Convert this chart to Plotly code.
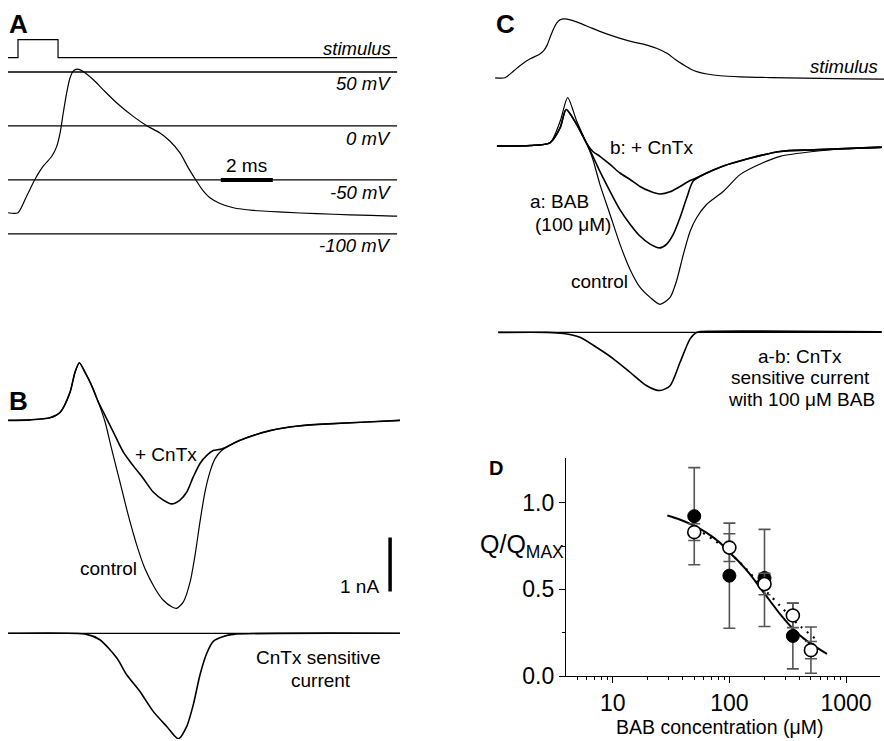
import plotly.graph_objects as go

W, H = 884, 741          # reference picture size (layout coordinates below are in this space)
FIG_H = 752              # rendered height (the page capture is squeezed back to 741)
FONT = "Liberation Sans, Arial, Helvetica, sans-serif"

# ---------------- data ----------------
# Panel A: action potential (ms, mV); reused as the stimulus of panel C
ap_t = [-0.38, 0.0, 0.33, 0.65, 0.97, 1.30, 1.49, 1.62, 1.74, 1.87, 2.00, 2.13, 2.28, 2.51,
        2.90, 3.28, 3.80, 4.43, 4.95, 5.46, 5.85, 6.23, 6.55, 6.87, 7.13, 7.38, 7.77, 8.28,
        9.05, 10.20, 11.49, 12.77, 14.44, 14.58]
ap_v = [-80.4, -80.4, -65.1, -49.6, -37.3, -28.1, -18.9, -6.5, 12.0, 30.5, 44.4, 51.1, 52.7, 50.5,
        42.8, 33.5, 21.3, 8.9, 0.3, -6.5, -14.2, -25.0, -38.8, -51.2, -60.4, -66.5, -71.8, -75.8,
        -78.3, -79.9, -81.3, -82.3, -83.5, -83.6]
ref_levels = [50, 0, -50, -100]
ref_labels = ["50 mV", "0 mV", "-50 mV", "-100 mV"]
stim_t = [-0.385, 0.0, 0.0, 1.54, 1.54, 14.58]
stim_v = [0, 0, 1, 1, 0, 0]

# Panel B: currents (ms, nA)
bc_t = [-0.38, 0.46, 1.23, 1.62, 2.00, 2.19, 2.36, 2.58, 2.83, 3.09, 3.35, 3.60, 3.92, 4.24,
        4.57, 4.88, 5.27, 5.59, 5.91, 6.10, 6.36, 6.62, 6.81, 7.00, 7.19, 7.38, 7.58, 7.83,
        8.54, 9.69, 10.85, 12.12, 13.42, 14.69]
bc_i = [-0.01, 0.0, 0.04, 0.14, 0.51, 0.88, 1.06, 0.88, 0.64, 0.33, -0.04, -0.54, -1.15, -1.77,
        -2.33, -2.76, -3.13, -3.35, -3.47, -3.50, -3.38, -3.01, -2.51, -1.89, -1.34, -0.97, -0.72,
        -0.57, -0.38, -0.20, -0.11, -0.07, -0.04, -0.01]
bx_t = [-0.38, 0.46, 1.23, 1.62, 2.00, 2.19, 2.36, 2.58, 2.83, 3.09, 3.35, 3.67, 4.05, 4.43,
        4.82, 5.20, 5.59, 5.91, 6.23, 6.49, 6.74, 7.00, 7.26, 7.51, 7.83, 8.54, 9.69, 10.85,
        12.12, 13.42, 14.69]
bx_i = [-0.01, 0.0, 0.04, 0.14, 0.51, 0.88, 1.06, 0.88, 0.64, 0.33, 0.08, -0.23, -0.60, -0.85,
        -1.09, -1.34, -1.49, -1.56, -1.49, -1.34, -1.06, -0.81, -0.66, -0.57, -0.54, -0.38, -0.20,
        -0.11, -0.07, -0.04, -0.01]
bd_t = [-0.38, 2.64, 3.15, 3.80, 4.18, 4.69, 5.20, 5.72, 6.17, 6.49, 6.74, 7.00, 7.26, 7.51,
        7.90, 8.28, 14.69]
bd_i = [0.0, -0.02, -0.12, -0.46, -0.77, -1.08, -1.45, -1.73, -1.96, -1.73, -1.33, -0.77, -0.37,
        -0.15, -0.06, -0.02, 0.0]

# Panel C: currents (ms, nA)
cc_t = [-0.31, 0.96, 1.73, 2.12, 2.41, 2.76, 3.14, 3.38, 3.65, 4.04, 4.42, 4.81, 5.19, 5.58,
        5.96, 6.35, 6.60, 6.86, 7.12, 7.37, 7.76, 8.40, 9.04, 9.92, 10.58, 11.85, 13.14, 14.49]
cc_i = [0.01, 0.02, 0.07, 0.47, 0.91, 0.47, 0.06, -0.24, -0.70, -1.26, -1.81, -2.28, -2.61, -2.80,
        -2.93, -2.80, -2.49, -2.00, -1.57, -1.32, -1.07, -0.83, -0.52, -0.30, -0.18, -0.09, -0.04,
        -0.02]
cb_t = [-0.31, 0.96, 1.73, 2.12, 2.35, 2.76, 3.14, 3.38, 3.65, 4.04, 4.42, 4.81, 5.19, 5.58,
        5.96, 6.22, 6.47, 6.73, 6.99, 7.24, 7.76, 8.40, 9.30, 10.58, 11.86, 14.49]
cb_i = [0.01, 0.02, 0.07, 0.35, 0.69, 0.41, 0.06, -0.18, -0.46, -0.83, -1.17, -1.44, -1.66, -1.81,
        -1.88, -1.81, -1.63, -1.32, -0.95, -0.64, -0.49, -0.36, -0.23, -0.09, -0.06, -0.01]
cx_t = [-0.31, 0.96, 1.73, 2.12, 2.35, 2.76, 3.14, 3.38, 3.65, 4.04, 4.42, 4.81, 5.19, 5.58,
        5.96, 6.35, 6.73, 7.12, 7.37, 7.76, 8.40, 9.30, 10.58, 11.86, 14.49]
cx_i = [0.01, 0.02, 0.07, 0.35, 0.69, 0.41, 0.06, -0.09, -0.18, -0.33, -0.49, -0.61, -0.74, -0.83,
        -0.88, -0.84, -0.74, -0.63, -0.58, -0.49, -0.36, -0.23, -0.09, -0.06, -0.01]
cd_t = [-0.26, 1.60, 2.24, 2.88, 3.53, 4.17, 4.81, 5.45, 5.96, 6.35, 6.73, 7.12, 7.37, 8.01, 14.49]
cd_i = [0.0, 0.0, -0.02, -0.09, -0.28, -0.49, -0.74, -0.99, -1.08, -0.99, -0.56, -0.12, 0.0,
        0.02, 0.01]

# Panel D: dose-response
conc = [50, 100, 200, 350, 500]
q_filled = [0.922, 0.579, 0.566, 0.232, 0.150]
e_filled = [0.280, 0.303, 0.280, 0.190, 0.133]
q_open = [0.830, 0.741, 0.531, 0.350, 0.150]
e_open = [0.048, 0.080, 0.062, 0.070, 0.050]
fit_x = [29.4, 37.5, 48.8, 63.5, 82.6, 100.7, 122.7, 149.4, 182, 221.8, 270, 329, 401, 488, 594, 687]
fit_y = [0.926, 0.903, 0.870, 0.827, 0.770, 0.712, 0.655, 0.589, 0.512, 0.436, 0.360, 0.293,
         0.236, 0.192, 0.154, 0.128]
fitd_x = [52.0, 77.4, 107.4, 139.9, 191.9, 270, 388, 565]
fitd_y = [0.850, 0.775, 0.693, 0.617, 0.512, 0.408, 0.299, 0.208]
x_ticks = [10, 100, 1000]
y_ticks = [0.0, 0.5, 1.0]

# scale bars (length in data units)
bar_ms = 2
bar_na = 1

# ---------------- figure ----------------
def fy(py):
    return 1 - py / H


fig = go.Figure()
K = "black"


def line(x, y, xa, ya, w=1.0, shape="linear", dash=None, color=K):
    fig.add_trace(go.Scatter(x=x, y=y, xaxis=xa, yaxis=ya, mode="lines",
                             line=dict(color=color, width=w, shape=shape, dash=dash,
                                       smoothing=0.7 if shape == "spline" else None),
                             hoverinfo="skip"))


# Panel A
a_x0, a_x1 = stim_t[0], stim_t[-1]
for lv in ref_levels:
    line([a_x0, a_x1], [lv, lv], "x", "y", 1.3)
line(stim_t, stim_v, "x", "y2", 1.2)
line(ap_t, ap_v, "x", "y", 1.2, "spline")
line([7.8, 7.8 + bar_ms], [-50, -50], "x", "y", 4)

# Panel B
line([bc_t[0], bc_t[-1]], [0, 0], "x2", "y4", 1.2)
line(bx_t, bx_i, "x2", "y3", 1.6, "spline")
line(bc_t, bc_i, "x2", "y3", 1.2, "spline")
line(bd_t, bd_i, "x2", "y4", 1.6, "spline")
line([14.31, 14.31], [-2.185, -2.185 - bar_na], "x2", "y3", 3.5)

# Panel C
line(ap_t, ap_v, "x3", "y5", 1.2, "spline")
line(cx_t, cx_i, "x3", "y6", 1.6, "spline")
line(cb_t, cb_i, "x3", "y6", 1.6, "spline")
line(cc_t, cc_i, "x3", "y6", 1.2, "spline")
line([cd_t[0], cd_t[-1]], [0, 0], "x3", "y7", 1.2)
line(cd_t, cd_i, "x3", "y7", 1.6, "spline")

# Panel D
line(fitd_x, fitd_y, "x4", "y8", 2.2, "spline", dash="2px,6px")
line(fit_x, fit_y, "x4", "y8", 2.0, "spline")
fig.add_trace(go.Scatter(x=conc, y=q_filled, xaxis="x4", yaxis="y8", mode="markers",
                         marker=dict(color="black", size=13, line=dict(color="black", width=1)),
                         error_y=dict(type="data", array=e_filled, color="#555555",
                                      thickness=1.6, width=6),
                         hoverinfo="skip"))
fig.add_trace(go.Scatter(x=conc, y=q_open, xaxis="x4", yaxis="y8", mode="markers",
                         marker=dict(color="white", size=13, line=dict(color="black", width=1.6)),
                         error_y=dict(type="data", array=e_open, color="#555555",
                                      thickness=1.6, width=6),
                         hoverinfo="skip"))

TICK_FS = 23
hid = dict(visible=False, fixedrange=True)
fig.update_layout(
    width=W, height=FIG_H, margin=dict(l=0, r=0, t=0, b=0),
    paper_bgcolor="white", plot_bgcolor="rgba(0,0,0,0)", showlegend=False,
    font=dict(family=FONT, color="black"),
    xaxis=dict(domain=[0, 420 / W], range=[-0.692, 15.46], anchor="y", **hid),
    yaxis=dict(domain=[fy(262), fy(60)], range=[-125.4, 61.27], anchor="x", **hid),
    yaxis2=dict(domain=[fy(62), fy(30)], range=[-0.239, 1.539], anchor="x", **hid),
    xaxis2=dict(domain=[0, 420 / W], range=[-0.692, 15.46], anchor="y3", **hid),
    yaxis3=dict(domain=[fy(620), fy(330)], range=[-3.685, 1.685], anchor="x2", **hid),
    yaxis4=dict(domain=[fy(741), fy(620)], range=[-1.963, 0.278], anchor="x2", **hid),
    xaxis3=dict(domain=[480 / W, 1], range=[-0.9615, 14.577], anchor="y5", **hid),
    yaxis5=dict(domain=[fy(88), fy(5)], range=[-102.96, 84.27], anchor="x3", **hid),
    yaxis6=dict(domain=[fy(315), fy(88)], range=[-3.111, 1.093], anchor="x3", **hid),
    yaxis7=dict(domain=[fy(430), fy(315)], range=[-1.791, 0.339], anchor="x3", **hid),
    xaxis4=dict(domain=[566 / W, 880 / W], type="log", range=[0.5997, 3.291], anchor="y8",
                showline=True, linecolor="black", linewidth=1.2, showgrid=False, zeroline=False,
                ticks="outside", ticklen=6, tickwidth=1.2, tickcolor="black",
                tickvals=x_ticks, ticktext=[str(v) for v in x_ticks],
                tickfont=dict(size=TICK_FS, family=FONT),
                minor=dict(ticks="outside", ticklen=3, tickwidth=1, tickcolor="black",
                           tickvals=[5, 6, 7, 8, 9, 20, 30, 40, 50, 60, 70, 80, 90,
                                     200, 300, 400, 500, 600, 700, 800, 900]),
                fixedrange=True),
    yaxis8=dict(domain=[fy(678), fy(459)], range=[0, 1.2586], anchor="x4",
                showline=True, linecolor="black", linewidth=1.2, showgrid=False, zeroline=False,
                ticks="outside", ticklen=6, tickwidth=1.2, tickcolor="black",
                tickvals=y_ticks, ticktext=["%.1f" % v for v in y_ticks],
                tickfont=dict(size=TICK_FS, family=FONT),
                minor=dict(ticks="outside", ticklen=3, tickwidth=1, tickcolor="black",
                           tickvals=[0.25, 0.75]),
                fixedrange=True),
)

LS = 19    # label font size
IS = 18.5  # italic label font size
anns = [
    ("<b>A</b>", 8, 24, "left", 26),
    ("<i>stimulus</i>", 392, 48.5, "right", IS),
    ("<b>B</b>", 8, 402, "left", 26),
    ("+ CnTx", 165.5, 456, "center", LS),
    ("control", 108, 570, "center", LS),
    ("1 nA", 380, 588, "right", LS),
    ("CnTx sensitive", 318, 659.5, "center", LS),
    ("current", 321, 682, "center", LS),
    ("2 ms", 246, 166, "center", LS),
    ("<b>C</b>", 495, 24, "left", 26),
    ("<i>stimulus</i>", 879, 67, "right", IS),
    ("b: + CnTx", 651.7, 148, "center", LS),
    ("a: BAB", 559, 202, "center", LS),
    ("(100 \u03bcM)", 572.5, 225, "center", LS),
    ("control", 599, 282, "center", LS),
    ("a-b: CnTx", 800, 357, "center", LS),
    ("sensitive current", 800, 379, "center", LS),
    ("with 100 \u03bcM BAB", 801.7, 401, "center", LS),
    ("<b>D</b>", 488, 469, "left", 20),
    ("Q/Q<sub>MAX</sub>", 522, 547, "center", 25),
    ("BAB concentration (\u03bcM)", 719, 729, "center", 19.5),
]
for lab, py in zip(ref_labels, [84, 138.5, 193, 246]):
    anns.append(("<i>%s</i>" % lab, 392, py, "right", IS))

fig.update_layout(annotations=[
    dict(text=t, x=px / W, y=fy(py), xref="paper", yref="paper", xanchor=xa, yanchor="middle",
         showarrow=False, borderpad=0, font=dict(size=s, family=FONT, color="black"))
    for (t, px, py, xa, s) in anns
])

PAGE_JS = (
    "document.documentElement.style.margin='0';"
    "document.documentElement.style.overflow='hidden';"
    "document.body.style.margin='0';"
    "document.body.style.overflow='hidden';"
    "var gd=document.querySelector('.plotly-graph-div');"
    "if(gd){gd.style.position='fixed';gd.style.left='0';gd.style.top='0';}"
)
fig.write_html("out.html", config={"displayModeBar": False}, post_script=PAGE_JS)
